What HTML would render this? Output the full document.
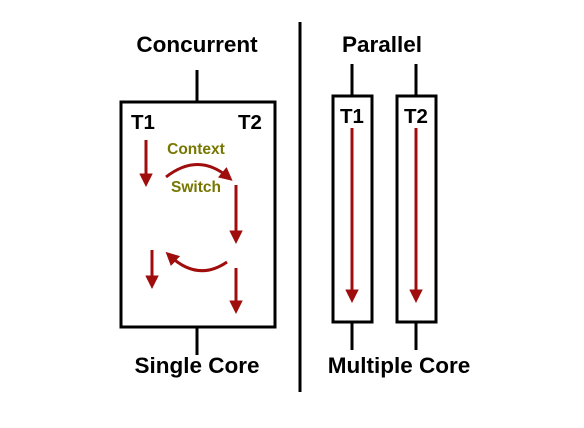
<!DOCTYPE html>
<html><head><style>
html,body{margin:0;padding:0;background:#fff;}
svg{display:block;}
text{font-family:"Liberation Sans",Arial,sans-serif;font-weight:bold;}
</style></head><body>
<svg width="584" height="428" viewBox="0 0 584 428" xmlns="http://www.w3.org/2000/svg">
<defs>
<marker id="ah" markerWidth="4.5" markerHeight="4.5" refX="2.5" refY="2.25" orient="auto" markerUnits="strokeWidth">
<path d="M0,0 L4.5,2.25 L0,4.5 Z" fill="#a00d0d"/>
</marker>
</defs>
<rect width="584" height="428" fill="#fff"/>
<line x1="300" y1="22" x2="300" y2="392" stroke="#000" stroke-width="3"/>
<text x="197" y="52" font-size="22.5" text-anchor="middle">Concurrent</text>
<text x="382" y="52" font-size="22.5" text-anchor="middle">Parallel</text>
<text x="197" y="373" font-size="22.5" text-anchor="middle">Single Core</text>
<text x="399" y="373" font-size="22.5" text-anchor="middle">Multiple Core</text>
<g stroke="#000" stroke-width="3" fill="none">
<line x1="197" y1="70" x2="197" y2="102"/>
<line x1="197" y1="327" x2="197" y2="355"/>
<rect x="121" y="102" width="154" height="225"/>
<line x1="352" y1="64" x2="352" y2="96"/>
<line x1="352" y1="322" x2="352" y2="350"/>
<rect x="333" y="96" width="39" height="226"/>
<line x1="416" y1="64" x2="416" y2="96"/>
<line x1="416" y1="322" x2="416" y2="350"/>
<rect x="397" y="96" width="39" height="226"/>
</g>
<text x="143" y="129" font-size="20.5" text-anchor="middle">T1</text>
<text x="250" y="129" font-size="20.5" text-anchor="middle">T2</text>
<text x="352" y="123" font-size="20.5" text-anchor="middle">T1</text>
<text x="416" y="123" font-size="20.5" text-anchor="middle">T2</text>
<text x="196" y="154" font-size="15.5" fill="#777700" text-anchor="middle">Context</text>
<text x="196" y="192" font-size="15.5" fill="#777700" text-anchor="middle">Switch</text>
<g stroke="#a00d0d" stroke-width="3" fill="none" marker-end="url(#ah)">
<line x1="146" y1="140" x2="146" y2="181"/>
<line x1="236" y1="185" x2="236" y2="238"/>
<line x1="152" y1="250" x2="152" y2="283"/>
<line x1="236" y1="268" x2="236" y2="308"/>
<path d="M166,177 Q198,152 228,177"/>
<path d="M227,262 Q198,282 170,256"/>
<line x1="352" y1="128" x2="352" y2="297"/>
<line x1="416" y1="128" x2="416" y2="297"/>
</g>
</svg>
</body></html>
